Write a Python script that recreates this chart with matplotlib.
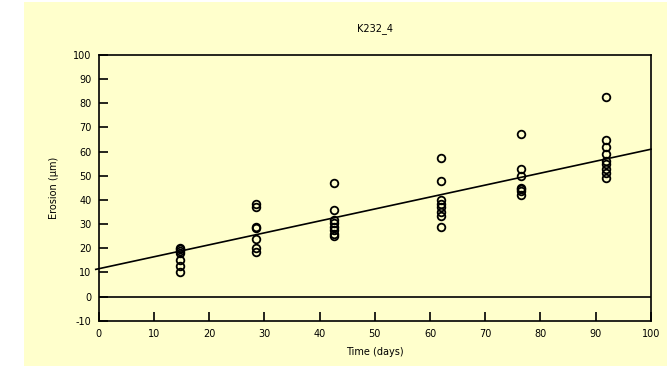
import numpy as np
import matplotlib.pyplot as plt
from matplotlib.patches import Rectangle

plt.rcParams['font.family'] = ['DejaVu Sans']
plt.rcParams['axes.unicode_minus'] = False

# sampling days and measured erosion (um) at each
days = [14.8, 28.5, 42.7, 62.0, 76.5, 91.9]
erosion = [
    [20, 19.5, 19, 18, 15, 12.5, 10],
    [38.5, 37, 29, 28.5, 24, 20, 18.5],
    [47, 36, 31.5, 30.5, 29, 27.5, 26, 25],
    [57.5, 48, 40, 38.5, 37, 35, 33.5, 29],
    [67.5, 53, 50, 45, 44.5, 43.5, 42],
    [82.5, 65, 62, 59, 56, 55, 53, 51, 49],
]
fit_intercept = 11.5
fit_slope = 0.495

x_ticks = list(range(0, 101, 10))
y_ticks = list(range(-10, 101, 10))

bg = '#FFFFCC'

fig = plt.figure(figsize=(6.67, 3.68), dpi=100, facecolor='white')
fig.patches.append(Rectangle((24 / 667, 2 / 368), 643 / 667, 364 / 368,
                             transform=fig.transFigure, facecolor=bg,
                             edgecolor='none', zorder=-10))

ax = fig.add_axes([0.1477, 0.1285, 0.8283, 0.722])
ax.set_facecolor(bg)

for d, vals in zip(days, erosion):
    ax.plot([d] * len(vals), vals, 'o', mfc='none', mec='black',
            ms=5.5, mew=1.3, zorder=3)

xs = np.array([-0.5, 100])
ax.plot(xs, fit_intercept + fit_slope * xs, color='black', lw=1.2,
        clip_on=False, zorder=2)
ax.axhline(0, color='black', lw=1.2, zorder=2)

ax.set_xlim(0, 100)
ax.set_ylim(-10, 100)
ax.set_xticks(x_ticks)
ax.set_yticks(y_ticks)
ax.tick_params(direction='in', length=6.5, width=1.2, labelsize=7)
ax.tick_params(axis='x', pad=6)
ax.tick_params(axis='y', pad=5)
for s in ax.spines.values():
    s.set_linewidth(1.2)

ax.set_title('K232_4', fontsize=7, pad=17)
ax.set_xlabel('Time (days)', fontsize=7, labelpad=6)
ax.set_ylabel('Erosion (µm)', fontsize=7, labelpad=10)

fig.savefig('out.png', dpi=100, facecolor='white')
